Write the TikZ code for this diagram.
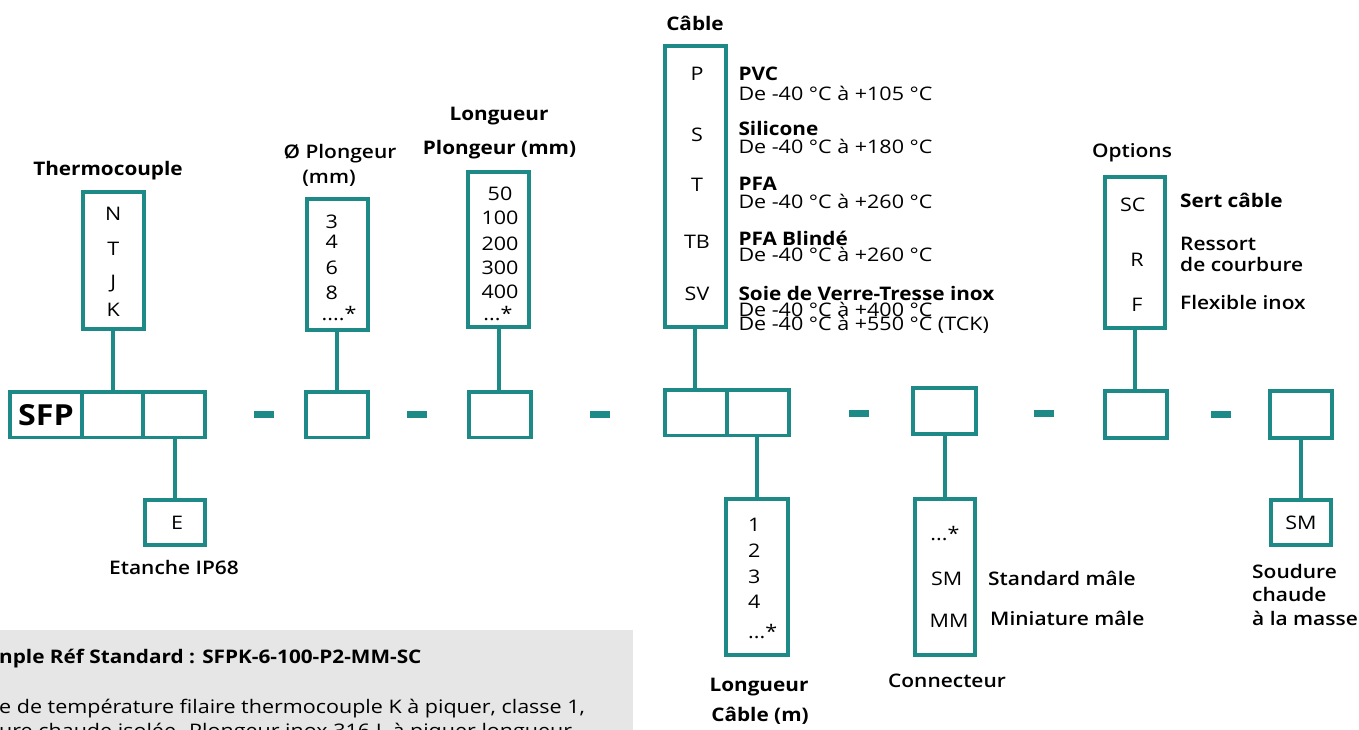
\documentclass[tikz,border=0pt]{standalone}
\usepackage{fontspec}
\setmainfont{Open Sans}[FakeStretch=1.15, BoldFeatures={FakeStretch=1.11}]
\newfontfamily\semibold{Open Sans Semibold}[FakeStretch=1.12]
\definecolor{sfpteal}{RGB}{30,138,135}
\definecolor{exgray}{RGB}{230,230,230}
\tikzset{
  slot/.style={draw=sfpteal, line width=3.8pt, inner sep=0pt, minimum width=62pt, minimum height=45.5pt},
  sepbar/.style={fill=sfpteal, inner sep=0pt, minimum width=20pt, minimum height=7pt},
  link/.style={draw=sfpteal, line width=3.8pt},
  val/.style={inner sep=0pt, anchor=base, font=\fontsize{18.7}{20}\selectfont},
  desc/.style={val, anchor=base west},
  head/.style={val, font=\fontsize{18.7}{20}\selectfont\bfseries},
  subhead/.style={val, font=\fontsize{18.7}{20}\selectfont\semibold},
}
\begin{document}
\begin{tikzpicture}[x=1pt,y=-1pt]
\useasboundingbox (0,0) rectangle (1359,729);
% example box at the bottom left
\fill[exgray] (0,630) rectangle (633,740);
\node[head, anchor=base west] (ex-title) at (-1,663) {nple Réf Standard : SFPK-6-100-P2-MM-SC};
\node[desc] (ex-line1) at (-1,713) {e de température filaire thermocouple K à piquer, classe 1,};
\node[desc] (ex-line2) at (-1,737) {ure chaude isolée. Plongeur inox 316 L à piquer longueur};
% main code row
\node[slot, minimum width=71.7pt, font=\fontsize{29}{30}\selectfont\bfseries] (sfp) at (45.9,414.7) {SFP};
\node[slot, minimum width=61.3pt] (tcslot) at (112.3,414.7) {};
\node[slot, minimum width=62.3pt] (etslot) at (174.2,414.7) {};
\node[slot] (diaslot) at (337,414.7) {};
\node[slot] (lenslot) at (500,414.7) {};
\node[slot, minimum width=61.7pt] (cabslot) at (695.8,412.8) {};
\node[slot, minimum width=62.3pt] (lcslot) at (757.8,412.8) {};
\node[slot, minimum width=63pt, minimum height=46pt] (conslot) at (944.5,410.7) {};
\node[slot, minimum width=61.7pt, minimum height=47pt] (optslot) at (1136.2,414.5) {};
\node[slot, minimum width=61.7pt, minimum height=47pt] (smslot) at (1301.2,414.5) {};
\foreach \n/\x/\y in {1/264/414.3, 2/417/414.3, 3/600/414.3, 4/859/413.3, 5/1044/413.3, 6/1221/414.3}
  \node[sepbar] (sep-\n) at (\x,\y) {};
% lists above the row
\node[slot, minimum width=61.3pt, minimum height=137.6pt] (tcbox) at (113.3,260.5) {};
\node[slot, minimum width=61.3pt, minimum height=131.3pt] (diabox) at (337.3,264.7) {};
\node[slot, minimum width=61.3pt, minimum height=155.6pt] (lenbox) at (498.7,249.5) {};
\node[slot, minimum width=61.3pt, minimum height=281.6pt] (cabbox) at (695.3,186.5) {};
\node[slot, minimum width=60.6pt, minimum height=151.3pt] (optbox) at (1135,252.3) {};
% lists below the row
\node[slot, minimum width=60.6pt, minimum height=45.6pt] (ebox) at (175,522.5) {};
\node[slot, minimum height=156.3pt] (lcbox) at (757,577.2) {};
\node[slot, minimum width=60.6pt, minimum height=156.3pt] (conbox) at (945,577.2) {};
\node[slot, minimum width=60pt, minimum height=44.7pt] (smbox) at (1301.3,522.3) {};
% links
\draw[link] (tcbox.south) -- (tcbox.south |- tcslot.north);
\draw[link] (diabox.south) -- (diabox.south |- diaslot.north);
\draw[link] (lenbox.south) -- (lenbox.south |- lenslot.north);
\draw[link] (cabbox.south) -- (cabbox.south |- cabslot.north);
\draw[link] (optbox.south) -- (optbox.south |- optslot.north);
\draw[link] (ebox.north) -- (ebox.north |- etslot.south);
\draw[link] (lcbox.north) -- (lcbox.north |- lcslot.south);
\draw[link] (conbox.north) -- (conbox.north |- conslot.south);
\draw[link] (smbox.north) -- (smbox.north |- smslot.south);
% titles
\node[head] (tc-title) at (108,175) {Thermocouple};
\node[subhead] (dia-title) at (340,158.3) {Ø Plongeur};
\node[subhead] (dia-unit) at (329,183.3) {(mm)};
\node[head] (len-title) at (499,120) {Longueur};
\node[head] (len-unit) at (499.5,154) {Plongeur (mm)};
\node[head] (cab-title) at (695,30.7) {Câble};
\node[subhead] (opt-title) at (1132,157.3) {Options};
\node[subhead] (e-title) at (174,574) {Etanche IP68};
\node[head] (lc-title) at (759,691.7) {Longueur};
\node[head] (lc-unit) at (760,721.7) {Câble (m)};
\node[subhead] (con-title) at (947,687.7) {Connecteur};
% list values
\foreach \t/\y in {N/220, T/255, J/288.5, K/316.7}
  \node[val] (tc-\t) at (113.3,\y) {\t};
\foreach \t/\y in {3/228.3, 4/248.3, 6/274, 8/299}
  \node[val] (dia-\t) at (331.7,\y) {\t};
\node[val] (dia-more) at (339,320) {....*};
\foreach \t/\y in {50/200, 100/224.3, 200/250.7, 300/274.3, 400/298.3}
  \node[val] (len-\t) at (500,\y) {\t};
\node[val] (len-more) at (498,320) {...*};
\foreach \t/\y in {P/80.7, S/141.7, T/191.7, TB/248, SV/300}
  \node[val] (cab-\t) at (697,\y) {\t};
\foreach \t/\y in {1/531.7, 2/557.3, 3/583.3, 4/608.3}
  \node[desc] (lc-\t) at (748,\y) {\t};
\node[desc] (lc-more) at (748,638.3) {...*};
\node[val] (con-more) at (945,540) {...*};
\node[val] (con-SM) at (946.7,585) {SM};
\node[val] (con-MM) at (949,627.3) {MM};
\node[val] (opt-SC) at (1132.7,211) {SC};
\node[val] (opt-R) at (1137,266.7) {R};
\node[val] (opt-F) at (1137,311.7) {F};
\node[val] (e-E) at (177,529.3) {E};
\node[val] (sm-SM) at (1301,529.3) {SM};
% descriptions
\foreach \t/\y in {PVC/80, Silicone/135, PFA/190, PFA Blindé/245, Soie de Verre-Tresse inox/300}
  \node[desc, font=\fontsize{18.7}{20}\selectfont\bfseries] (cab-d\y) at (738.3,\y) {\t};
\foreach \t/\y in {+105/100, +180/153.3, +260/208.3, +260/261.7, +400/316}
  \node[desc] (cab-r\y) at (738.3,\y) {De -40 °C à \t{} °C};
\node[desc] (cab-tck) at (738.3,330) {De -40 °C à +550 °C (TCK)};
\node[desc, font=\fontsize{18.7}{20}\selectfont\bfseries] (opt-dSC) at (1180,207.3) {Sert câble};
\node[desc, font=\fontsize{18.7}{20}\selectfont\semibold] (opt-dR1) at (1180,250) {Ressort};
\node[desc, font=\fontsize{18.7}{20}\selectfont\semibold] (opt-dR2) at (1180,271.7) {de courbure};
\node[desc, font=\fontsize{18.7}{20}\selectfont\semibold] (opt-dF) at (1180,309) {Flexible inox};
\node[desc, font=\fontsize{18.7}{20}\selectfont\semibold] (con-dSM) at (988,585) {Standard mâle};
\node[desc, font=\fontsize{18.7}{20}\selectfont\semibold] (con-dMM) at (990,625) {Miniature mâle};
\node[desc, font=\fontsize{18.7}{20}\selectfont\semibold] (sm-d1) at (1252,578.3) {Soudure};
\node[desc, font=\fontsize{18.7}{20}\selectfont\semibold] (sm-d2) at (1252,601.7) {chaude};
\node[desc, font=\fontsize{18.7}{20}\selectfont\semibold] (sm-d3) at (1252,625) {à la masse};
\end{tikzpicture}
\end{document}
